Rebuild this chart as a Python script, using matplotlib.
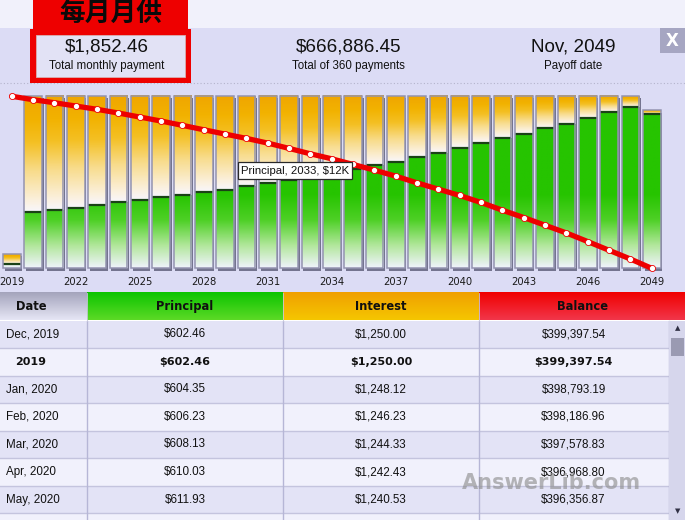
import numpy as np
import matplotlib
matplotlib.use('Agg')
import matplotlib.pyplot as plt
from matplotlib.colors import LinearSegmentedColormap, Normalize, to_rgb
from matplotlib.patches import Rectangle

# ---------------- data ----------------
years = list(range(2019, 2050))
principal = [602, 7280, 7460, 7720, 8230, 8490, 8790, 9180, 9400, 9780, 10120,
             10640, 10990, 11370, 11760, 12280, 12800, 13310, 13740, 14380, 14820,
             15470, 16120, 16760, 17280, 18060, 18610, 19350, 20120, 20850, 19900]
interest = [1250, 14950, 14770, 14510, 14000, 13740, 13440, 13050, 12830, 12450, 12110,
            11590, 11240, 10860, 10470, 9950, 9430, 8920, 8490, 7850, 7410,
            6760, 6110, 5470, 4950, 4170, 3620, 2880, 2110, 1380, 480]
balance = [399398, 391400, 384400, 376750, 369070, 360470, 351170, 341860, 331860, 321630, 311630,
           301630, 290700, 278370, 265810, 254190, 241160, 227910, 213950, 198370, 183720,
           169070, 152790, 134880, 117910, 100000, 82090, 62090, 41860, 21630, 0]
tick_years = years[::3]

summary_values = ["$1,852.46", "$666,886.45", "Nov, 2049"]
summary_labels = ["Total monthly payment", "Total of 360 payments", "Payoff date"]
title_cn = "每月月供"
tooltip_text = "Principal, 2033, $12K"

table_headers = ["Date", "Principal", "Interest", "Balance"]
table_dates = ["Dec, 2019", "2019", "Jan, 2020", "Feb, 2020", "Mar, 2020", "Apr, 2020", "May, 2020"]
table_principal = ["$602.46", "$602.46", "$604.35", "$606.23", "$608.13", "$610.03", "$611.93"]
table_interest = ["$1,250.00", "$1,250.00", "$1,248.12", "$1,246.23", "$1,244.33", "$1,242.43", "$1,240.53"]
table_balance = ["$399,397.54", "$399,397.54", "$398,793.19", "$398,186.96", "$397,578.83",
                 "$396,968.80", "$396,356.87"]
bold_rows = [1]

# ---------------- figure ----------------
W, H = 685, 520
fig = plt.figure(figsize=(W / 100, H / 100), dpi=100)
UI = 'Liberation Sans'

bg = fig.add_axes([0, 0, 1, 1], zorder=0)
bg.set_xlim(0, W)
bg.set_ylim(H, 0)
bg.axis('off')


def rect(x, y, w, h, fc, ec='none', lw=0, z=1):
    bg.add_patch(Rectangle((x, y), w, h, facecolor=fc, edgecolor=ec, linewidth=lw, zorder=z))


def vgrad(x0, x1, y0, y1, ctop, cbot, z=1):
    t = np.linspace(0, 1, 64)[:, None]
    a = np.array(to_rgb(ctop)); b = np.array(to_rgb(cbot))
    img = (a[None, :] * (1 - t) + b[None, :] * t)[:, None, :]
    bg.imshow(img, extent=(x0, x1, y1, y0), origin='upper', aspect='auto',
              interpolation='bilinear', zorder=z)


# backgrounds
rect(0, 0, W, 28, '#f1f1fb')
rect(0, 28, W, 265, '#dcdcf5')
bg.plot([0, W], [83, 83], ls=(0, (1, 2)), color='#b4b4cc', lw=0.8, zorder=2)

# red label box
rect(33, 0, 155, 29, '#ee0000', z=2)
rect(30.5, 28.5, 161, 54.5, '#ee0000', z=2)
rect(36.5, 35, 148.5, 41.5, '#e2e2f5', ec='#d8b0b0', lw=0.6, z=3)
bg.text(111, 13, title_cn, ha='center', va='center', fontsize=18.5, fontweight='bold',
        family=['Noto Sans CJK SC', 'DejaVu Sans'], color='#0a0a0a', zorder=4)

# summary
sx = [107, 348.5, 573]
for x, v, l in zip(sx, summary_values, summary_labels):
    bg.text(x, 47, v, ha='center', va='center', fontsize=13.6, family=UI, color='#111111', zorder=4)
    bg.text(x, 66.5, l, ha='center', va='center', fontsize=8.3, family=UI, color='#111111', zorder=4)

# close button
rect(660, 28, 25, 25, '#a6a6c2', z=2)
bg.text(672.5, 40.5, "X", ha='center', va='center', fontsize=12, fontweight='bold',
        family='DejaVu Sans', color='white', zorder=3)

# ---------------- chart ----------------
ax_top, ax_bot = 85, 272
ax = fig.add_axes([0, (H - ax_bot) / H, 1, (ax_bot - ax_top) / H], zorder=2)
ax.patch.set_visible(False)
for s in ax.spines.values():
    s.set_visible(False)

px0, pstep = 11.7, 21.333
x_lo = years[0] - px0 / pstep
x_hi = x_lo + W / pstep
base_px, full_px = 268.3, 172.3
full_val = 22229.5
bal_full = 400000.0
ylo = (base_px - ax_bot) * full_val / full_px
yhi = (base_px - ax_top) * full_val / full_px

green_cmap = LinearSegmentedColormap.from_list(
    'g', [(0, '#eff3fb'), (0.3, '#b2e79c'), (0.65, '#4ed026'), (1, '#26c400')])
orange_cmap = LinearSegmentedColormap.from_list(
    'o', [(0, '#f8f6fb'), (0.1, '#fbf0dc'), (0.35, '#f8dc8c'), (0.6, '#f4c024'), (0.8, '#f2b200'), (1, '#f0a600')])

w = 0.83
sh_dx = 0.09
sh_dy = 2.2 * full_val / full_px
totals = [p + i for p, i in zip(principal, interest)]
for yr, p, i in zip(years, principal, interest):
    x0, x1 = yr - w / 2, yr + w / 2
    ax.add_patch(Rectangle((x0 + sh_dx, -sh_dy), w, p + i, facecolor='#74748f',
                           edgecolor='none', zorder=1))
    g = np.linspace(0, p, 100)[:, None]
    ax.imshow(g, extent=(x0, x1, 0, p), origin='lower', cmap=green_cmap,
              norm=Normalize(0, 9500), aspect='auto', interpolation='bilinear', zorder=2)
    o = np.linspace(0, 1, 100)[:, None]
    ax.imshow(o, extent=(x0, x1, p, p + i), origin='lower', cmap=orange_cmap,
              aspect='auto', interpolation='bilinear', zorder=2)

ax.hlines(principal, [y - w / 2 for y in years], [y + w / 2 for y in years],
          color='#1a4216', lw=1.6, zorder=3)
ax.bar(years, totals, width=w, fill=False, edgecolor='#9494b0', linewidth=1.1, zorder=4)

ax.set_xlim(x_lo, x_hi)
ax.set_ylim(ylo, yhi)
ax.set_yticks([])
ax.set_xticks(tick_years)
ax.set_xticklabels([str(t) for t in tick_years])
ax.tick_params(axis='x', length=0, pad=3.5, labelsize=7.2, labelcolor='#1a1a1a')
for lab in ax.get_xticklabels():
    lab.set_family('DejaVu Sans')

ax2 = ax.twinx()
ax2.patch.set_visible(False)
for s in ax2.spines.values():
    s.set_visible(False)
ax2.set_yticks([])
ax2.plot(years, balance, color='#ee0000', lw=3.8, marker='o', markersize=4.4,
         markerfacecolor='white', markeredgecolor='#ee0000', markeredgewidth=0.6,
         solid_capstyle='round', zorder=5)
ax2.set_ylim(ylo * bal_full / full_val, yhi * bal_full / full_val)

fig.text(241 / W, 1 - 170.5 / H, tooltip_text, ha='left', va='center', fontsize=8.2,
         family=UI, color='#111111', zorder=10,
         bbox=dict(boxstyle='square,pad=0.28', facecolor='white', edgecolor='#2a2a2a', linewidth=0.9))

# ---------------- table ----------------
tb = fig.add_axes([0, 0, 1, 1], zorder=3)
tb.set_xlim(0, W)
tb.set_ylim(H, 0)
tb.axis('off')
bg = tb

col_edges = [0, 87, 283, 479, 669]
hdr_top, hdr_bot = 292.5, 320.5
row_h = 27.55
hdr_cols = [('#a4a4bc', '#e6e6f5'), ('#0cc400', '#5cda26'), ('#f0a000', '#f5c600'), ('#f00000', '#f2364a')]
for k, (ct, cb) in enumerate(hdr_cols):
    x1 = col_edges[k + 1] if k < 3 else W
    vgrad(col_edges[k], x1, hdr_top, hdr_bot, ct, cb, z=1)

hdr_x = [31, 185, 381, 583]
for x, t in zip(hdr_x, table_headers):
    tb.text(x, 306.5, t, ha='center', va='center', fontsize=8.3, fontweight='bold',
            family='DejaVu Sans', color='#101010', zorder=4)

n_rows = 8
for r in range(n_rows):
    y0 = hdr_bot + r * row_h
    rect(0, y0, 669, row_h, '#e3e3f6' if r % 2 == 0 else '#f1f1fc', z=1)
    tb.plot([0, 669], [y0 + row_h, y0 + row_h], color='#c4c4de', lw=1.0, zorder=2)

for x in col_edges[1:]:
    tb.plot([x, x], [hdr_bot, H], color='#b6b6d6', lw=1.0, zorder=2)
for x in col_edges[1:4]:
    tb.plot([x, x], [hdr_top, hdr_bot], color='#c8c8dc', lw=0.6, zorder=2)

for r in range(len(table_dates)):
    yc = hdr_bot + r * row_h + row_h / 2
    b = r in bold_rows
    fw = 'bold' if b else 'normal'
    fam = 'DejaVu Sans' if b else UI
    fs = 8.0 if b else 8.4
    tb.text(15 if b else 6, yc, table_dates[r], ha='left', va='center', fontsize=fs,
            fontweight=fw, family=fam, color='#111111', zorder=4)
    tb.text(185, yc, table_principal[r], ha='center', va='center', fontsize=fs,
            fontweight=fw, family=fam, color='#111111', zorder=4)
    tb.text(381, yc, table_interest[r], ha='center', va='center', fontsize=fs,
            fontweight=fw, family=fam, color='#111111', zorder=4)
    tb.text(573.5, yc, table_balance[r], ha='center', va='center', fontsize=fs,
            fontweight=fw, family=fam, color='#111111', zorder=4)

# scrollbar
rect(669, hdr_bot, 16, H - hdr_bot, '#d6d6ec', z=2)
rect(671, 338, 13, 18, '#9a9ab2', z=3)
tb.text(677.5, 328.5, '▲', ha='center', va='center', fontsize=5, color='#303044',
        family='DejaVu Sans', zorder=4)
tb.text(677.5, 511.5, '▼', ha='center', va='center', fontsize=5, color='#303044',
        family='DejaVu Sans', zorder=4)

# watermark (overlaps the table in the reference too)
tb.text(551, 483, 'AnswerLib.com', ha='center', va='center', fontsize=15, fontweight='bold',
        family='DejaVu Sans', color='#8c8c8c', alpha=0.62, zorder=5)

fig.savefig('out.png', dpi=100)
